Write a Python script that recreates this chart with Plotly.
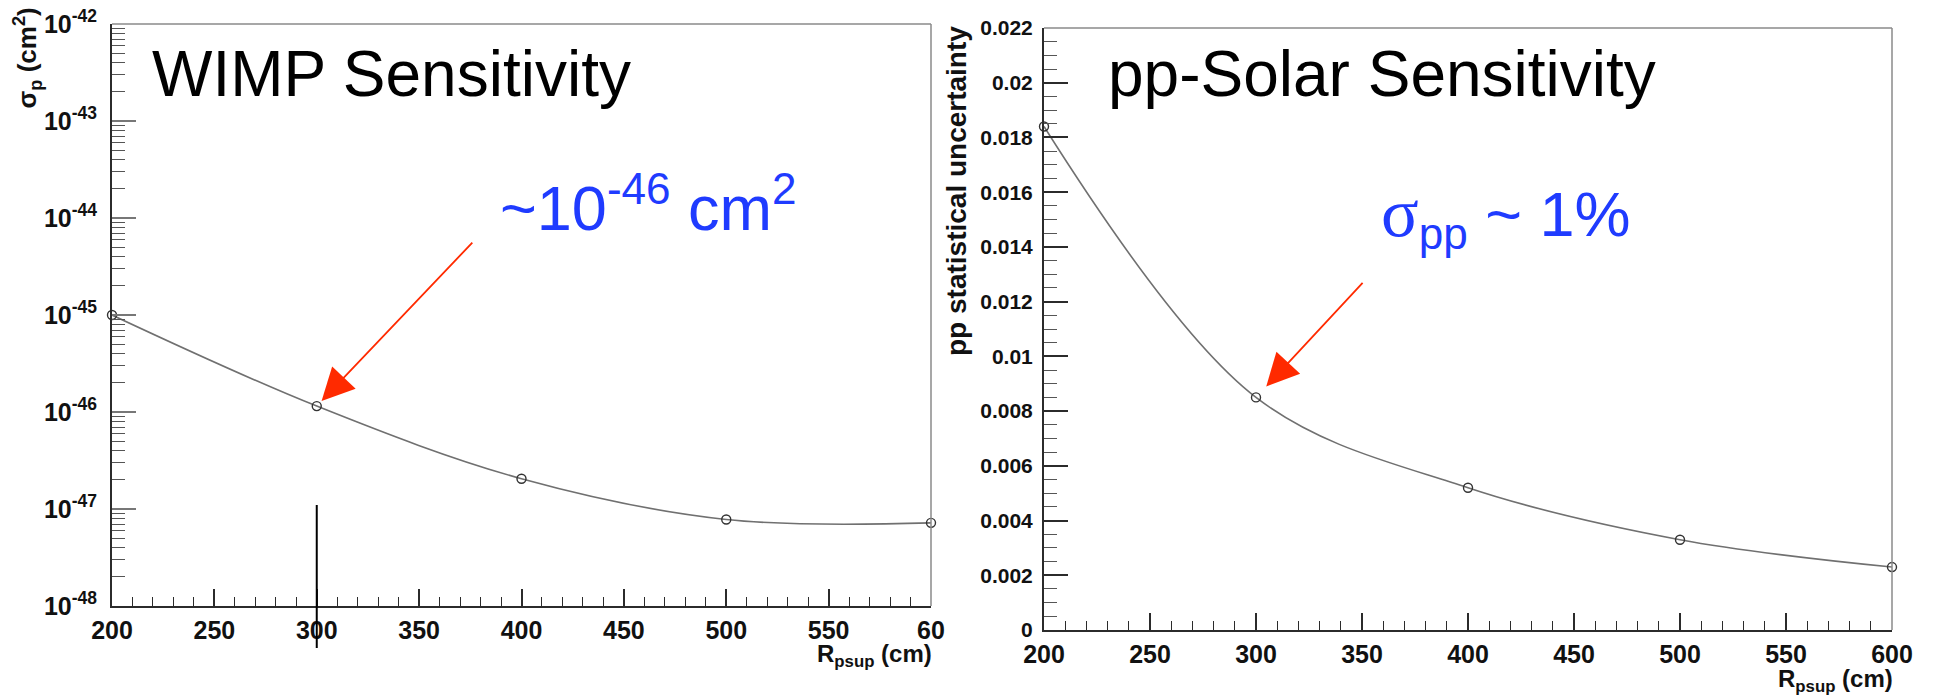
import numpy as np
import plotly.graph_objects as go

# ---------------- data ----------------
r_psup = [200, 300, 400, 500, 600]
wimp_sigma = [1.0e-45, 1.15e-46, 2.05e-47, 7.8e-48, 7.2e-48]
pp_uncert = [0.0184, 0.0085, 0.0052, 0.0033, 0.0023]

x_ticks = [200, 250, 300, 350, 400, 450, 500, 550, 600]
x_ticks_left_text = ["200", "250", "300", "350", "400", "450", "500", "550", "60"]
x_ticks_right_text = ["200", "250", "300", "350", "400", "450", "500", "550", "600"]
wimp_exponents = [-48, -47, -46, -45, -44, -43, -42]
wimp_y_ticks = [10.0 ** e for e in wimp_exponents]
wimp_y_text = ["10<sup>%d</sup>" % e for e in wimp_exponents]
wimp_minor = [k * 10.0 ** e for e in wimp_exponents[:-1] for k in range(2, 10)]

W, H = 1936, 696
def px(xp):
    return xp / W
def py(yp):
    return 1 - yp / H

AX = "#2b2b2b"
FRAME = "#8a8a8a"
RED = "#ff2a00"
BLUE = "#1f3bff"
SANS = "Liberation Sans, Arial, Helvetica, sans-serif"
bold_tick = dict(family=SANS, size=25, color="#111", weight="bold")

fig = go.Figure()
fig.add_trace(go.Scatter(
    x=r_psup, y=wimp_sigma, mode="lines+markers", xaxis="x", yaxis="y",
    line=dict(shape="spline", smoothing=1.0, color="#707070", width=1.6),
    marker=dict(symbol="circle-open", size=9, color="#333", line=dict(width=1.4)),
    cliponaxis=False, showlegend=False, hoverinfo="skip"))
fig.add_trace(go.Scatter(
    x=r_psup, y=pp_uncert, mode="lines+markers", xaxis="x2", yaxis="y2",
    line=dict(shape="spline", smoothing=1.0, color="#707070", width=1.6),
    marker=dict(symbol="circle-open", size=9, color="#333", line=dict(width=1.4)),
    cliponaxis=False, showlegend=False, hoverinfo="skip"))

common_x = dict(range=[200, 600], tickmode="array", tickvals=x_ticks, automargin=False,
                ticks="inside", ticklen=17, tickwidth=1.5, tickcolor=AX,
                showline=True, linecolor=AX, linewidth=2, showgrid=False, zeroline=False,
                tickfont=bold_tick, ticklabelstandoff=1,
                minor=dict(ticks="inside", ticklen=9, tickwidth=1.3, tickcolor=AX,
                           dtick=10, tick0=200, showgrid=False))

fig.update_layout(
    width=W, height=H, margin=dict(l=0, r=0, t=0, b=0, pad=0, autoexpand=False),
    paper_bgcolor="white", plot_bgcolor="white", showlegend=False,
    xaxis=dict(domain=[px(112), px(931)], anchor="y", ticktext=x_ticks_left_text, **common_x),
    yaxis=dict(domain=[py(606), py(24)], anchor="x", type="log", range=[-48, -42],
               automargin=False,
               tickmode="array", tickvals=wimp_y_ticks, ticktext=wimp_y_text,
               ticks="inside", ticklen=24, tickwidth=1.5, tickcolor="#777",
               showline=True, linecolor=AX, linewidth=2, showgrid=False, zeroline=False,
               tickfont=bold_tick, ticklabelstandoff=8,
               minor=dict(ticks="inside", ticklen=13, tickwidth=1.3, tickcolor="#555",
                          tickmode="array", tickvals=wimp_minor, showgrid=False)),
    xaxis2=dict(domain=[px(1044), px(1892)], anchor="y2", ticktext=x_ticks_right_text, **common_x),
    yaxis2=dict(domain=[py(630), py(28)], anchor="x2", range=[0, 0.022], automargin=False,
                tickmode="linear", tick0=0, dtick=0.002,
                ticks="inside", ticklen=24, tickwidth=1.5, tickcolor=AX,
                showline=True, linecolor=AX, linewidth=2, showgrid=False, zeroline=False,
                tickfont=dict(family=SANS, size=21, color="#111", weight="bold"),
                ticklabelstandoff=5,
                minor=dict(ticks="inside", ticklen=13, tickwidth=1.3, tickcolor="#555",
                           dtick=0.0005, showgrid=False)),
)

shapes = []
for xa, ya in (("x", "y"), ("x2", "y2")):
    shapes.append(dict(type="line", xref=xa + " domain", yref=ya + " domain",
                       x0=0, x1=1, y0=1, y1=1, line=dict(color=FRAME, width=1.5)))
    shapes.append(dict(type="line", xref=xa + " domain", yref=ya + " domain",
                       x0=1, x1=1, y0=0, y1=1, line=dict(color=FRAME, width=1.5)))
# black vertical marker line at R = 300
shapes.append(dict(type="line", xref="x", yref="paper", x0=r_psup[1], x1=r_psup[1],
                   y0=py(648), y1=py(505), line=dict(color="black", width=2)))
fig.update_layout(shapes=shapes)

ann = []
# titles
ann.append(dict(text="WIMP Sensitivity", xref="paper", yref="paper", x=px(150), y=py(74),
                xanchor="left", yanchor="middle", showarrow=False,
                font=dict(family=SANS, size=64, color="black")))
ann.append(dict(text="pp-Solar Sensitivity", xref="paper", yref="paper", x=px(1106), y=py(74),
                xanchor="left", yanchor="middle", showarrow=False,
                font=dict(family=SANS, size=64, color="black")))
# blue callouts
ann.append(dict(text="~10<sup>-46</sup> cm<sup>2</sup>", xref="paper", yref="paper",
                x=px(498), y=py(203), xanchor="left", yanchor="middle", showarrow=False,
                font=dict(family=SANS, size=63, color=BLUE)))
ann.append(dict(text="<span style='font-family:Liberation Serif, Times New Roman, serif;font-size:70px'>σ</span><sub>pp</sub> ~ 1%",
                xref="paper", yref="paper", x=px(1379), y=py(216), xanchor="left", yanchor="middle",
                showarrow=False, font=dict(family=SANS, size=63, color=BLUE)))
# red arrows
ann.append(dict(text="", x=r_psup[1], y=float(np.log10(wimp_sigma[1])), xref="x", yref="y",
                ax=157, ay=-165, showarrow=True, arrowhead=2, arrowsize=3.6, arrowwidth=1.8,
                arrowcolor=RED, standoff=7))
ann.append(dict(text="", x=r_psup[1], y=pp_uncert[1], xref="x2", yref="y2",
                ax=108, ay=-116, showarrow=True, arrowhead=2, arrowsize=3.6, arrowwidth=1.8,
                arrowcolor=RED, standoff=15))
# axis titles
ann.append(dict(text="σ<sub>p</sub> (cm<sup>2</sup>)", xref="paper", yref="paper",
                x=px(28), y=py(6), xanchor="center", yanchor="top", textangle=-90,
                showarrow=False, font=dict(family=SANS, size=26, color="#111", weight="bold")))
ann.append(dict(text="pp statistical uncertainty", xref="paper", yref="paper",
                x=px(957), y=py(24), xanchor="center", yanchor="top", textangle=-90,
                showarrow=False, font=dict(family=SANS, size=28, color="#111", weight="bold")))
ann.append(dict(text="R<sub>psup</sub> (cm)", xref="paper", yref="paper",
                x=px(934), y=py(638), xanchor="right", yanchor="top",
                showarrow=False, font=dict(family=SANS, size=24, color="#111", weight="bold")))
ann.append(dict(text="R<sub>psup</sub> (cm)", xref="paper", yref="paper",
                x=px(1895), y=py(663), xanchor="right", yanchor="top",
                showarrow=False, font=dict(family=SANS, size=24, color="#111", weight="bold")))
fig.update_layout(annotations=ann)

fig.write_html("out.html")
